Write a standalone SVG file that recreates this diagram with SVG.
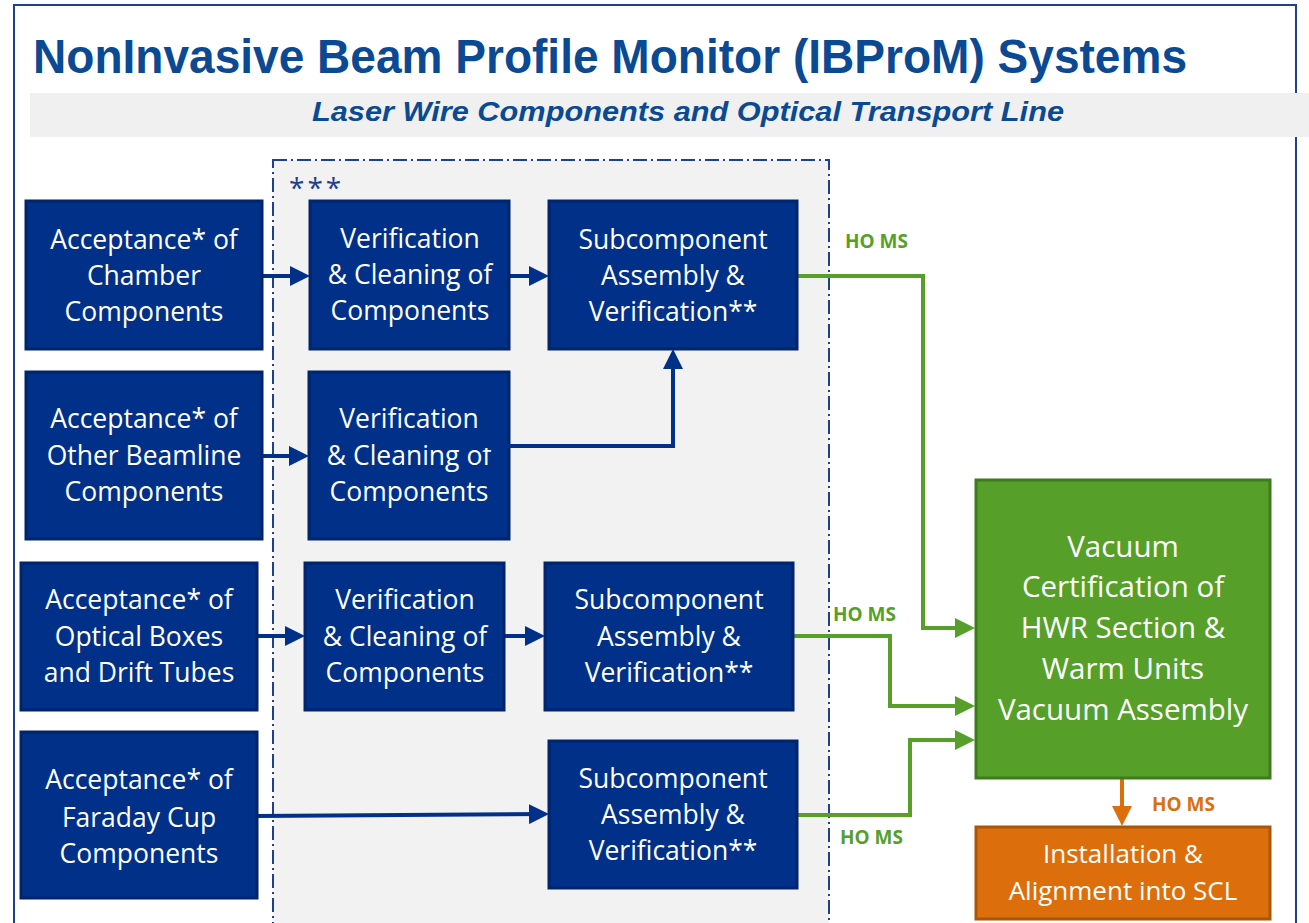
<svg xmlns="http://www.w3.org/2000/svg" width="1309" height="923" viewBox="0 0 1309 923">
<defs>
<style>
.bn{fill:#003087;stroke:#00256a;stroke-width:3}
.t{font-family:"Open Sans","Liberation Sans",sans-serif;font-size:26.5px;fill:#ffffff;text-anchor:middle}
.tb{font-family:"Open Sans","Liberation Sans",sans-serif;font-size:29.5px;fill:#ffffff;text-anchor:middle}
.to{font-family:"Open Sans","Liberation Sans",sans-serif;font-size:26px;fill:#ffffff;text-anchor:middle}
.cb{fill:none;stroke:#003087;stroke-width:4}
.cg{fill:none;stroke:#56a02a;stroke-width:4}
.co{fill:none;stroke:#dc6f0c;stroke-width:4}
.lg{font-family:"Open Sans","Liberation Sans",sans-serif;font-size:19px;font-weight:bold;fill:#56a02a}
.lo{font-family:"Open Sans","Liberation Sans",sans-serif;font-size:19px;font-weight:bold;fill:#dc6f0c}
</style>
<marker id="ab" markerWidth="5" markerHeight="5" refX="4" refY="2.5" orient="auto" markerUnits="strokeWidth"><path d="M0,0 L5,2.5 L0,5 z" fill="#003087"/></marker>
<marker id="ag" markerWidth="5" markerHeight="5" refX="4" refY="2.5" orient="auto" markerUnits="strokeWidth"><path d="M0,0 L5,2.5 L0,5 z" fill="#56a02a"/></marker>
<marker id="ao" markerWidth="5" markerHeight="5" refX="4" refY="2.5" orient="auto" markerUnits="strokeWidth"><path d="M0,0 L5,2.5 L0,5 z" fill="#dc6f0c"/></marker>
</defs>
<rect x="0" y="0" width="1309" height="923" fill="#ffffff"/>
<rect x="14" y="5" width="1282" height="930" fill="none" stroke="#1f3f8f" stroke-width="2"/>
<text x="33" y="73" font-family="Liberation Sans, Arial, sans-serif" font-size="48" font-weight="bold" fill="#0b4a93" textLength="1154" lengthAdjust="spacingAndGlyphs">NonInvasive Beam Profile Monitor (IBProM) Systems</text>
<rect x="30" y="93" width="1279" height="44" fill="#f0f0f0"/>
<text x="688" y="121" font-family="Liberation Sans, Arial, sans-serif" font-size="28" font-weight="bold" font-style="italic" fill="#0b4a93" text-anchor="middle" textLength="752" lengthAdjust="spacingAndGlyphs">Laser Wire Components and Optical Transport Line</text>
<g id="group-box">
<rect x="273" y="160" width="556" height="780" fill="#f2f2f2" stroke="#1f3f8f" stroke-width="2" stroke-dasharray="14,4,2,4"/>
<text x="289" y="198" font-family="Open Sans, Liberation Sans, sans-serif" font-size="28" letter-spacing="3" fill="#1f3f8f">***</text>
</g>
<g id="connectors">
<line class="cb" x1="262" y1="276" x2="306" y2="276" marker-end="url(#ab)"/>
<line class="cb" x1="509" y1="276" x2="545" y2="276" marker-end="url(#ab)"/>
<line class="cb" x1="262" y1="456" x2="305" y2="456" marker-end="url(#ab)"/>
<line class="cb" x1="257" y1="636" x2="301" y2="636" marker-end="url(#ab)"/>
<line class="cb" x1="504" y1="636" x2="541" y2="636" marker-end="url(#ab)"/>
<line class="cb" x1="257" y1="816" x2="545" y2="814" marker-end="url(#ab)"/>
<path class="cg" d="M797,276 H923 V628 H971" marker-end="url(#ag)"/>
<path class="cg" d="M793,636 H890 V706 H971" marker-end="url(#ag)"/>
<path class="cg" d="M797,815 H910 V740 H971" marker-end="url(#ag)"/>
<line class="co" x1="1122" y1="778" x2="1122" y2="822" marker-end="url(#ao)"/>
<text class="lg" x="845" y="248">HO MS</text>
<text class="lg" x="833" y="621">HO MS</text>
<text class="lg" x="840" y="844">HO MS</text>
<text class="lo" x="1152" y="811">HO MS</text>
</g>
<g id="a1"><rect class="bn" x="26" y="201" width="236" height="148"/><text class="t" x="144" y="249">Acceptance* of</text><text class="t" x="144" y="285">Chamber</text><text class="t" x="144" y="321">Components</text></g>
<g id="v1"><rect class="bn" x="310" y="201" width="199" height="148"/><text class="t" x="410" y="248">Verification</text><text class="t" x="410" y="284">&amp; Cleaning of</text><text class="t" x="410" y="320">Components</text></g>
<g id="s1"><rect class="bn" x="549" y="201" width="248" height="148"/><text class="t" x="673" y="249">Subcomponent</text><text class="t" x="673" y="285">Assembly &amp;</text><text class="t" x="673" y="321">Verification**</text></g>
<g id="a2"><rect class="bn" x="26" y="372" width="236" height="167"/><text class="t" x="144" y="428">Acceptance* of</text><text class="t" x="144" y="465">Other Beamline</text><text class="t" x="144" y="501">Components</text></g>
<g id="v2"><rect class="bn" x="309" y="372" width="200" height="167"/><text class="t" x="409" y="428">Verification</text><text class="t" x="409" y="465">&amp; Cleaning of</text><text class="t" x="409" y="501">Components</text></g>
<path class="cb" d="M476,446 H673 V353" marker-end="url(#ab)"/>
<g id="a3"><rect class="bn" x="21" y="563" width="236" height="147"/><text class="t" x="139" y="609">Acceptance* of</text><text class="t" x="139" y="646">Optical Boxes</text><text class="t" x="139" y="682">and Drift Tubes</text></g>
<g id="v3"><rect class="bn" x="305" y="563" width="199" height="147"/><text class="t" x="405" y="609">Verification</text><text class="t" x="405" y="646">&amp; Cleaning of</text><text class="t" x="405" y="682">Components</text></g>
<g id="s3"><rect class="bn" x="545" y="563" width="248" height="147"/><text class="t" x="669" y="609">Subcomponent</text><text class="t" x="669" y="646">Assembly &amp;</text><text class="t" x="669" y="682">Verification**</text></g>
<g id="a4"><rect class="bn" x="21" y="732" width="236" height="166"/><text class="t" x="139" y="789">Acceptance* of</text><text class="t" x="139" y="827">Faraday Cup</text><text class="t" x="139" y="863">Components</text></g>
<g id="s4"><rect class="bn" x="549" y="741" width="248" height="147"/><text class="t" x="673" y="788">Subcomponent</text><text class="t" x="673" y="824">Assembly &amp;</text><text class="t" x="673" y="860">Verification**</text></g>
<g id="vac"><rect x="976" y="480" width="294" height="298" fill="#56a02a" stroke="#3f7a1f" stroke-width="3"/><text class="tb" x="1123" y="557">Vacuum</text><text class="tb" x="1123" y="597">Certification of</text><text class="tb" x="1123" y="638">HWR Section &amp;</text><text class="tb" x="1123" y="679">Warm Units</text><text class="tb" x="1123" y="720">Vacuum Assembly</text></g>
<g id="inst"><rect x="976" y="827" width="294" height="92" fill="#dc6f0c" stroke="#a85608" stroke-width="3"/><text class="to" x="1123" y="863">Installation &amp;</text><text class="to" x="1123" y="900">Alignment into SCL</text></g>
</svg>
